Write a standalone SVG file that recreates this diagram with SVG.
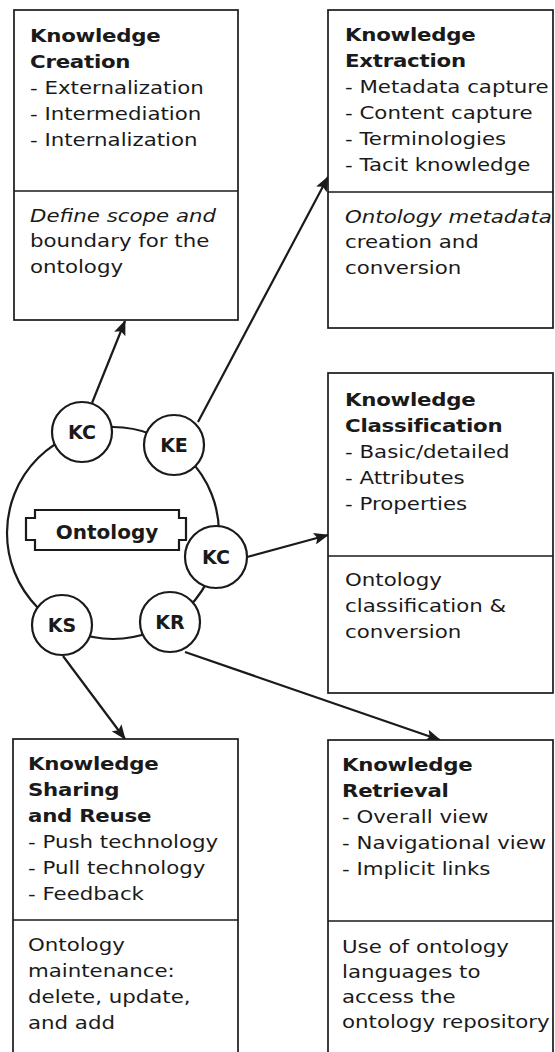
<svg xmlns="http://www.w3.org/2000/svg" width="555" height="1052" viewBox="0 0 555 1052">
  <style>
    .box { fill: #fff; stroke: #1a1a1a; stroke-width: 1.7; }
    .div { stroke: #1a1a1a; stroke-width: 1.6; }
    .t { font-family: "DejaVu Sans", Verdana, sans-serif; font-size: 17px; fill: #1a1a1a; }
    .b { font-weight: bold; letter-spacing: -0.2px; }
    .i { font-style: italic; }
    .ring { fill: none; stroke: #1a1a1a; stroke-width: 2.2; }
    .node { fill: #fff; stroke: #1a1a1a; stroke-width: 2.2; }
    .lbl { font-family: "DejaVu Sans", Verdana, sans-serif; font-size: 19px; font-weight: bold; fill: #1a1a1a; text-anchor: middle; }
    .conn { fill: none; stroke: #1a1a1a; stroke-width: 2.2; marker-end: url(#head); }
  </style>
  <defs>
    <marker id="head" markerUnits="userSpaceOnUse" markerWidth="16" markerHeight="12" refX="14" refY="6" orient="auto">
      <path d="M0,0 L15,6 L0,12 L3,6 Z" fill="#1a1a1a"/>
    </marker>
  </defs>
  <rect width="555" height="1052" fill="#fff"/>

  <!-- connectors -->
  <g id="connectors">
    <line class="conn" x1="92" y1="403" x2="125" y2="321"/>
    <line class="conn" x1="198" y1="422" x2="328" y2="177"/>
    <line class="conn" x1="247" y1="557" x2="328" y2="535"/>
    <line class="conn" x1="63" y1="656" x2="125" y2="739"/>
    <line class="conn" x1="185" y1="652" x2="440" y2="740"/>
  </g>

  <!-- central ring with the ontology label -->
  <g id="ontology">
    <circle class="ring" cx="113" cy="533" r="106"/>
    <path d="M35,510 H179 V518 H186 V540 H179 V550 H35 V540 H26 V518 H35 Z" fill="#fff" stroke="#1a1a1a" stroke-width="2.2"/>
    <text class="lbl" x="107" y="539" style="font-size:20px">Ontology</text>
  </g>

  <g id="kc-creation">
    <circle class="node" cx="82" cy="432" r="30"/>
    <text class="lbl" x="82" y="439">KC</text>
  </g>
  <g id="ke">
    <circle class="node" cx="174" cy="445" r="30"/>
    <text class="lbl" x="174" y="452">KE</text>
  </g>
  <g id="kc-classification">
    <circle class="node" cx="216" cy="557" r="31"/>
    <text class="lbl" x="216" y="564">KC</text>
  </g>
  <g id="kr">
    <circle class="node" cx="170" cy="622" r="30"/>
    <text class="lbl" x="170" y="629">KR</text>
  </g>
  <g id="ks">
    <circle class="node" cx="62" cy="625" r="30"/>
    <text class="lbl" x="62" y="632">KS</text>
  </g>

  <!-- Knowledge Creation -->
  <g id="box-creation">
    <rect class="box" x="14" y="10" width="224" height="310"/>
    <line class="div" x1="14" y1="191" x2="238" y2="191"/>
    <g class="t" transform="translate(30,0) scale(1.255,1)">
      <text class="b" y="42">Knowledge</text>
      <text class="b" y="68">Creation</text>
      <text y="94">- Externalization</text>
      <text y="120">- Intermediation</text>
      <text y="146">- Internalization</text>
      <text class="i" y="222">Define scope and</text>
      <text y="247.5">boundary for the</text>
      <text y="273">ontology</text>
    </g>
  </g>

  <!-- Knowledge Extraction -->
  <g id="box-extraction">
    <rect class="box" x="328" y="10" width="225" height="318"/>
    <line class="div" x1="328" y1="192" x2="553" y2="192"/>
    <g class="t" transform="translate(345,0) scale(1.255,1)">
      <text class="b" y="41">Knowledge</text>
      <text class="b" y="67">Extraction</text>
      <text y="93">- Metadata capture</text>
      <text y="119">- Content capture</text>
      <text y="145">- Terminologies</text>
      <text y="171">- Tacit knowledge</text>
      <text class="i" y="223">Ontology metadata</text>
      <text y="248.5">creation and</text>
      <text y="274">conversion</text>
    </g>
  </g>

  <!-- Knowledge Classification -->
  <g id="box-classification">
    <rect class="box" x="328" y="373" width="225" height="320"/>
    <line class="div" x1="328" y1="556" x2="553" y2="556"/>
    <g class="t" transform="translate(345,0) scale(1.255,1)">
      <text class="b" y="406">Knowledge</text>
      <text class="b" y="432">Classification</text>
      <text y="458">- Basic/detailed</text>
      <text y="484">- Attributes</text>
      <text y="510">- Properties</text>
      <text y="586">Ontology</text>
      <text y="612">classification &amp;</text>
      <text y="638">conversion</text>
    </g>
  </g>

  <!-- Knowledge Sharing and Reuse -->
  <g id="box-sharing">
    <rect class="box" x="13" y="739" width="225" height="330"/>
    <line class="div" x1="13" y1="920" x2="238" y2="920"/>
    <g class="t" transform="translate(28,0) scale(1.255,1)">
      <text class="b" y="770">Knowledge</text>
      <text class="b" y="796">Sharing</text>
      <text class="b" y="822">and Reuse</text>
      <text y="848">- Push technology</text>
      <text y="874">- Pull technology</text>
      <text y="900">- Feedback</text>
      <text y="951">Ontology</text>
      <text y="977">maintenance:</text>
      <text y="1003">delete, update,</text>
      <text y="1029">and add</text>
    </g>
  </g>

  <!-- Knowledge Retrieval -->
  <g id="box-retrieval">
    <rect class="box" x="328" y="740" width="225" height="330"/>
    <line class="div" x1="328" y1="921" x2="553" y2="921"/>
    <g class="t" transform="translate(342,0) scale(1.255,1)">
      <text class="b" y="771">Knowledge</text>
      <text class="b" y="797">Retrieval</text>
      <text y="823">- Overall view</text>
      <text y="849">- Navigational view</text>
      <text y="875">- Implicit links</text>
      <text y="953">Use of ontology</text>
      <text y="978">languages to</text>
      <text y="1003">access the</text>
      <text y="1028">ontology repository</text>
    </g>
  </g>
</svg>
